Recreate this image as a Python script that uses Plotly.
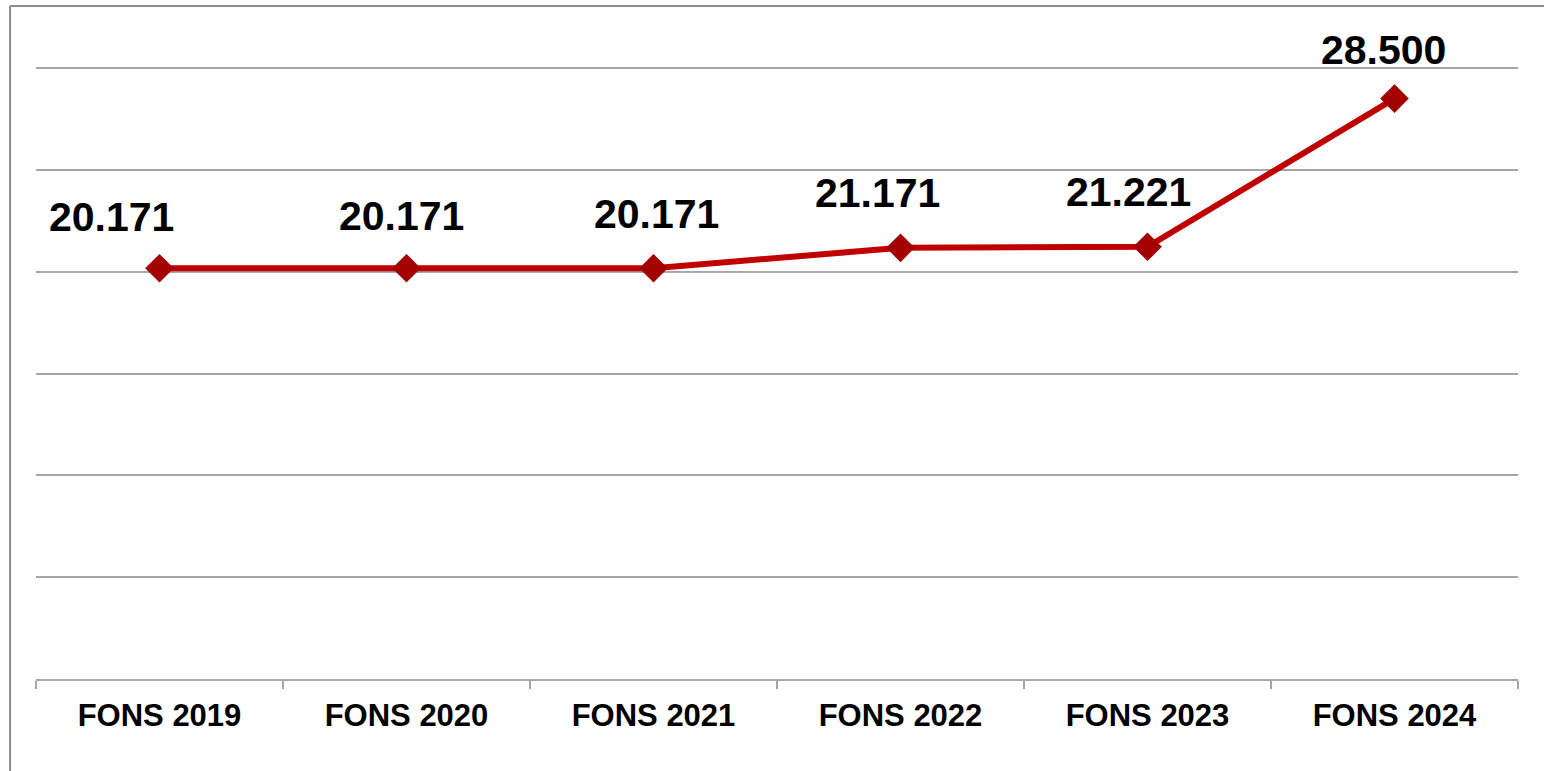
import plotly.graph_objects as go

# ── DATA ─────────────────────────────────────────────────────────────────────
categories = ["FONS 2019", "FONS 2020", "FONS 2021", "FONS 2022", "FONS 2023", "FONS 2024"]
values = [20171, 20171, 20171, 21171, 21221, 28500]
labels = ["20.171", "20.171", "20.171", "21.171", "21.221", "28.500"]

# label nudges (px) to mimic the original placement
label_dx = [-48, -5, 3, -23, -19, -11]
label_dy = [26, 27, 29, 30, 30, 24]

LINE_RED = "#C00000"
MARK_RED = "#A30000"
GRID = "#A6A6A6"
FONT = "Liberation Sans, Arial, sans-serif"

fig = go.Figure(go.Scatter(
    x=categories, y=values,
    mode="lines+markers",
    line=dict(color=LINE_RED, width=6),
    marker=dict(symbol="diamond", size=22, color=MARK_RED),
    hoverinfo="skip",
))

for c, v, t, dx, dy in zip(categories, values, labels, label_dx, label_dy):
    fig.add_annotation(
        x=c, y=v, text=f"<b>{t}</b>", showarrow=False,
        xshift=dx, yshift=dy, yanchor="bottom",
        font=dict(family=FONT, size=41, color="black"),
    )

# frame lines (top + left of the chart box)
fig.add_shape(type="line", xref="paper", yref="paper",
              x0=-0.0175, x1=1.05, y0=1.0979, y1=1.0979,
              line=dict(color="#8C8C8C", width=2))
fig.add_shape(type="line", xref="paper", yref="paper",
              x0=-0.0175, x1=-0.0175, y0=-0.2, y1=1.0979,
              line=dict(color="#8C8C8C", width=2))

fig.update_layout(
    width=1544, height=771,
    paper_bgcolor="white", plot_bgcolor="white",
    margin=dict(l=36, r=26, t=66, b=92),
    showlegend=False,
    font=dict(family=FONT, color="black"),
)
fig.update_xaxes(
    type="category", range=[-0.5, 5.5], tickson="boundaries",
    ticks="outside", ticklen=8, tickcolor=GRID, tickwidth=2,
    ticklabelstandoff=8,
    showline=True, linecolor=GRID, linewidth=2,
    showgrid=False,
    tickfont=dict(family=FONT, size=31, color="black"),
    ticktext=[f"<b>{c}</b>" for c in categories], tickvals=categories,
)
fig.update_yaxes(
    range=[0, 30100], tickvals=[0, 5000, 10000, 15000, 20000, 25000, 30000],
    showticklabels=False, showgrid=True, gridcolor=GRID, gridwidth=2,
    zeroline=False,
)

# drop the default 8px body margin so the figure fills the window exactly
fig.write_html("out.html", config={"displayModeBar": False},
               post_script="document.body.style.margin='0';")
